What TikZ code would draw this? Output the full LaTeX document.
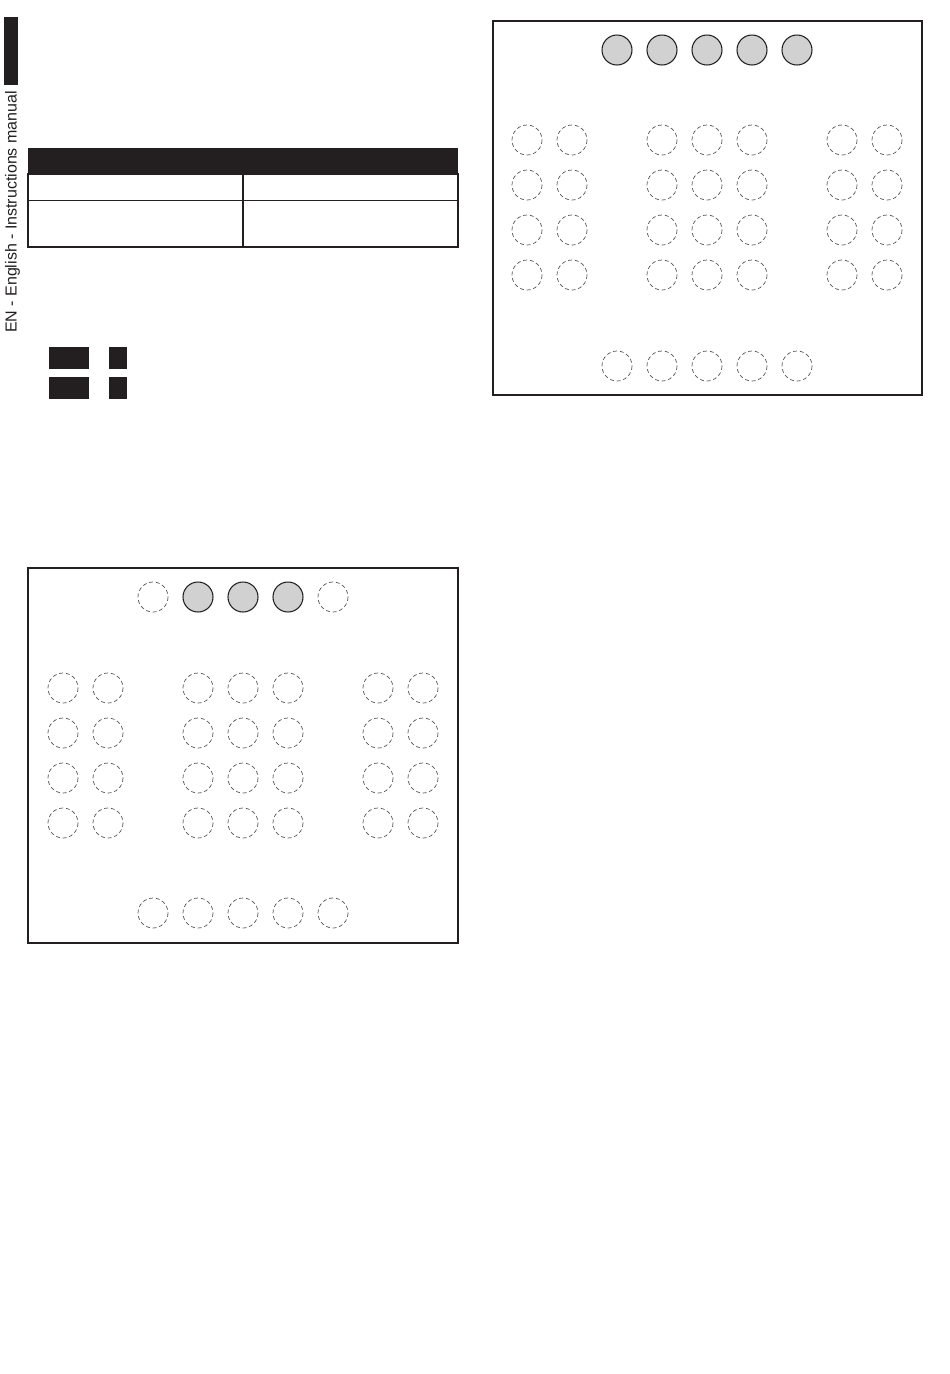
\documentclass[tikz,border=0pt]{standalone}
\usepackage{fontspec}
\setmainfont{Liberation Sans}
\usetikzlibrary{positioning}
\definecolor{ink}{HTML}{231F20}
\definecolor{padgray}{HTML}{D1D1D1}
\definecolor{dashgray}{HTML}{555555}

\tikzset{
  frame/.style={draw=ink, line width=0.6pt},
  fullpad/.style={fill=padgray, draw=ink, line width=0.6pt},
  freepad/.style={draw=dashgray, line width=0.4pt, dash pattern=on 2.2pt off 1.6pt},
}

\begin{document}
\begin{tikzpicture}[x=0.02cm,y=-0.02cm]
\useasboundingbox (0,0) rectangle (950,1374);
% side tab and running title
\fill[ink] (4,17) rectangle (18,85);
\node[rotate=90, inner sep=0pt, font=\fontsize{9.1}{11}\selectfont, text=ink] (title) at (12.5,212) {EN - English - Instructions manual};
% table
\fill[ink] (28,148) rectangle (458,174);
\draw[ink, line width=0.75pt] (28,174) rectangle (458,247);
\draw[ink, line width=0.75pt] (28,200.5) -- (458,200.5);
\draw[ink, line width=0.75pt] (243,174) -- (243,247);
% key blocks
\fill[ink] (48.5,347) rectangle (89,369);
\fill[ink] (108.5,347) rectangle (127,369);
\fill[ink] (48.5,377) rectangle (89,399);
\fill[ink] (108.5,377) rectangle (127,399);
% panel 1 (three lit)
\begin{scope}[shift={(28,568)}]
\draw[frame] (0,0) rectangle (430,375);
\foreach \i in {0,...,4} {
  \ifnum\i=0 \draw[freepad] (125+45*\i,29) circle (15);
  \else\ifnum\i=4 \draw[freepad] (125+45*\i,29) circle (15);
  \else \draw[fullpad] (125+45*\i,29) circle (15); \fi\fi
  \draw[freepad] (125+45*\i,345) circle (15);
}
\foreach \r in {0,...,3} {
  \foreach \cx in {35,80,170,215,260,350,395}
    \draw[freepad] (\cx,120+45*\r) circle (15);
}
\end{scope}
% panel 2 (all lit)
\begin{scope}[shift={(493,21)}]
\draw[frame] (0,0) rectangle (429,374);
\foreach \i in {0,...,4} {
  \draw[fullpad] (124+45*\i,29) circle (15);
  \draw[freepad] (124+45*\i,345) circle (15);
}
\foreach \r in {0,...,3} {
  \foreach \cx in {34,79,169,214,259,349,394}
    \draw[freepad] (\cx,119+45*\r) circle (15);
}
\end{scope}
\end{tikzpicture}
\end{document}
